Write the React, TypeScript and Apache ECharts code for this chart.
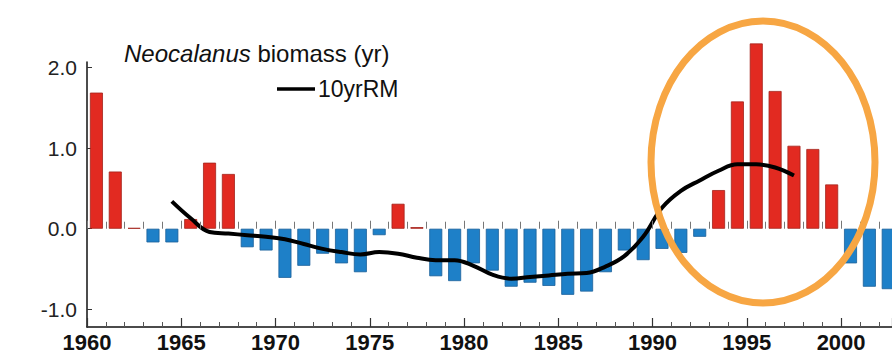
import React, { useEffect, useRef } from "react";
import * as echarts from "echarts";

const years = [
  1960, 1961, 1962, 1963, 1964, 1965, 1966, 1967, 1968, 1969,
  1970, 1971, 1972, 1973, 1974, 1975, 1976, 1977, 1978, 1979,
  1980, 1981, 1982, 1983, 1984, 1985, 1986, 1987, 1988, 1989,
  1990, 1991, 1992, 1993, 1994, 1995, 1996, 1997, 1998, 1999,
  2000, 2001, 2002,
];
const biomass = [
  1.69, 0.71, 0.01, -0.17, -0.17, 0.12, 0.82, 0.68, -0.23, -0.27,
  -0.61, -0.46, -0.31, -0.43, -0.54, -0.08, 0.31, 0.02, -0.59, -0.65,
  -0.43, -0.52, -0.72, -0.67, -0.71, -0.82, -0.78, -0.54, -0.27, -0.39,
  -0.25, -0.3, -0.1, 0.48, 1.58, 2.3, 1.71, 1.03, 0.99, 0.55,
  -0.43, -0.72, -0.75,
];
const rmYears = [
  1964, 1965, 1966, 1967, 1968, 1969, 1970, 1971, 1972, 1973,
  1974, 1975, 1976, 1977, 1978, 1979, 1980, 1981, 1982, 1983,
  1984, 1985, 1986, 1987, 1988, 1989, 1990, 1991, 1992, 1993,
  1994, 1995, 1996, 1997,
];
const rm10 = [
  0.34, 0.13, -0.04, -0.06, -0.08, -0.1, -0.13, -0.19, -0.25, -0.29,
  -0.32, -0.29, -0.31, -0.36, -0.39, -0.39, -0.46, -0.57, -0.62, -0.6,
  -0.58, -0.56, -0.55, -0.47, -0.34, -0.1, 0.26, 0.47, 0.6, 0.72,
  0.8, 0.8, 0.76, 0.66,
];
const yTicks = [-1, 0, 1, 2];
const Y_MIN = -1.22;
const Y_MAX = 2.07;

const RED = "#e22a21";
const RED_EDGE = "#a3231c";
const BLUE = "#1e80c8";
const BLUE_EDGE = "#1b5f99";

export default function App() {
  const ref = useRef<HTMLDivElement>(null);
  useEffect(() => {
    document.body.style.margin = "0";
    const chart = echarts.init(ref.current!, null, { renderer: "svg" });
    const barData = years.map((y, i) => ({
      value: [y + 0.5, biomass[i]],
      itemStyle: {
        color: biomass[i] >= 0 ? RED : BLUE,
        borderColor: biomass[i] >= 0 ? RED_EDGE : BLUE_EDGE,
        borderWidth: 0.8,
      },
    }));
    const lineData = rmYears.map((y, i) => [y + 0.5, rm10[i]]);
    const font = "'Liberation Sans', Arial, Helvetica, sans-serif";
    const gridTop = 62;
    const gridBottom = 32;
    const plotH = 359 - gridTop - gridBottom;
    const zeroY = gridTop + (Y_MAX / (Y_MAX - Y_MIN)) * plotH;
    chart.setOption({
      animation: false,
      backgroundColor: "#ffffff",
      grid: [
        { left: 87, right: 0, top: gridTop, bottom: gridBottom },
        { left: 87, right: 0, top: zeroY - 20, height: 20 },
      ],
      xAxis: [
        {
          type: "value",
          gridIndex: 0,
          min: 1960,
          max: 2002.7,
          interval: 5,
          position: "bottom",
          axisLine: { onZero: false, lineStyle: { color: "#111", width: 1.5 } },
          axisTick: { inside: true, length: 9, lineStyle: { color: "#333", width: 1.2 } },
          minorTick: { show: true, splitNumber: 5, length: 5, lineStyle: { color: "#555", width: 1 } },
          splitLine: { show: false },
          axisLabel: {
            fontFamily: font,
            fontSize: 22,
            fontWeight: "bold",
            color: "#111",
            margin: 4,
            formatter: (v: number) => String(v),
          },
        },
        {
          type: "value",
          gridIndex: 1,
          min: 1960,
          max: 2002.7,
          interval: 5,
          position: "bottom",
          axisLine: { show: false, onZero: false },
          axisTick: { inside: true, length: 8, lineStyle: { color: "#777", width: 1 } },
          minorTick: { show: true, splitNumber: 5, length: 7, lineStyle: { color: "#777", width: 1 } },
          splitLine: { show: false },
          axisLabel: { show: false },
          z: 4,
        },
      ],
      yAxis: [
        {
          type: "value",
          gridIndex: 0,
          min: Y_MIN,
          max: Y_MAX,
          axisLine: { show: true, lineStyle: { color: "#111", width: 1.5 } },
          axisTick: { show: true, inside: true, length: 5, customValues: yTicks, lineStyle: { color: "#333" } },
          splitLine: { show: false },
          axisLabel: {
            customValues: yTicks,
            fontFamily: font,
            fontSize: 21,
            color: "#222",
            margin: 10,
            formatter: (v: number) => v.toFixed(1),
          },
        },
        {
          type: "value",
          gridIndex: 1,
          show: false,
        },
      ],
      series: [
        {
          type: "bar",
          data: barData,
          barWidth: 13,
          clip: false,
          xAxisIndex: 0,
          yAxisIndex: 0,
          z: 2,
        },
        {
          type: "line",
          data: lineData,
          smooth: 0.4,
          symbol: "none",
          lineStyle: { color: "#000", width: 4 },
          xAxisIndex: 0,
          yAxisIndex: 0,
          z: 3,
        },
      ],
      graphic: [
        {
          type: "text",
          left: 124,
          top: 41,
          style: {
            rich: {
              it: { fontFamily: font, fontSize: 24, fontStyle: "italic", fill: "#111" },
              n: { fontFamily: font, fontSize: 24, fill: "#111" },
            },
            text: "{it|Neocalanus}{n| biomass (yr)}",
          },
          z: 10,
        },
        {
          type: "line",
          shape: { x1: 277, y1: 89, x2: 315, y2: 89 },
          style: { stroke: "#000", lineWidth: 3.5 },
          z: 10,
        },
        {
          type: "text",
          left: 318,
          top: 77,
          style: { text: "10yrRM", fontFamily: font, fontSize: 23, fill: "#111" },
          z: 10,
        },
        {
          type: "ellipse",
          shape: { cx: 763, cy: 162, rx: 112, ry: 141 },
          style: { fill: "none", stroke: "#f7a643", lineWidth: 7 },
          z: 20,
        },
      ],
    });
    return () => chart.dispose();
  }, []);
  return <div ref={ref} style={{ width: 892, height: 359 }} />;
}
